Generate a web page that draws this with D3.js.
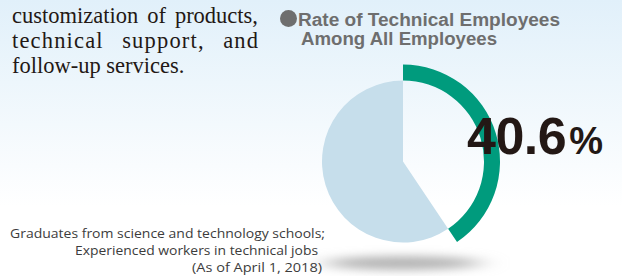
<!DOCTYPE html>
<html>
<head>
<meta charset="utf-8">
<script src="https://cdn.jsdelivr.net/npm/d3@7"></script>
<style>
  html, body { margin: 0; padding: 0; background: #fff; }
  svg { display: block; }
</style>
</head>
<body>
<div id="chart"></div>
<script>
const width = 622;
const height = 276;

// data
const rate = 40.6;
const shares = [
    { key: 'technical', value: 40.6 },
    { key: 'other', value: 59.4 }
];
const titleLines = ['Rate of Technical Employees', 'Among All Employees'];
const noteLines = [
    'Graduates from science and technology schools;',
    'Experienced workers in technical jobs',
    '(As of April 1, 2018)'
];
const paraLines = [
    'customization of products,',
    'technical support, and',
    'follow-up services.'
];

const svg = d3.select('#chart').append('svg')
    .attr('width', width)
    .attr('height', height);

const defs = svg.append('defs');
const bg = defs.append('linearGradient')
    .attr('id', 'bg')
    .attr('x1', 0).attr('y1', 0).attr('x2', 0).attr('y2', 1);
bg.append('stop').attr('offset', '0%').attr('stop-color', '#e1f0fa');
bg.append('stop').attr('offset', '75%').attr('stop-color', '#ffffff');
bg.append('stop').attr('offset', '100%').attr('stop-color', '#ffffff');

defs.append('filter')
    .attr('id', 'blur')
    .attr('x', '-50%').attr('y', '-300%').attr('width', '200%').attr('height', '700%')
    .append('feGaussianBlur')
    .attr('stdDeviation', '14 5');

svg.append('rect')
    .attr('width', width)
    .attr('height', height)
    .attr('fill', 'url(#bg)');

// left paragraph, justified: widen word gaps first, then letters
const paraLeft = 12;
const paraRight = 258;
const maxGapExtra = 14;
const para = svg.append('g')
    .attr('font-family', '"Liberation Serif", "Times New Roman", serif')
    .attr('font-size', 22.5)
    .attr('fill', '#231815');

paraLines.forEach((line, i) => {
    const y = 22.7 + i * 25.3;
    const words = line.split(' ');
    const justify = i < paraLines.length - 1;
    const nodes = words.map(w => para.append('text').attr('y', y).text(w));
    let widths = nodes.map(n => n.node().getComputedTextLength());
    const space = 5.6;
    let gap = space;
    if (justify) {
        const extra = paraRight - paraLeft - d3.sum(widths) - space * (words.length - 1);
        const gapExtra = Math.min(maxGapExtra, extra / (words.length - 1));
        const rest = extra - gapExtra * (words.length - 1);
        const chars = d3.sum(words, w => w.length - 1);
        const ls = rest > 0 ? rest / chars : 0;
        if (ls > 0) {
            nodes.forEach(n => n.attr('letter-spacing', ls));
            widths = nodes.map((n, j) => widths[j] + ls * words[j].length);
        }
        gap = space + gapExtra - ls;
    }
    let x = paraLeft;
    nodes.forEach((n, j) => {
        n.attr('x', x);
        x += widths[j] + gap;
    });
});

// title with bullet
svg.append('circle')
    .attr('cx', 288.5)
    .attr('cy', 18.5)
    .attr('r', 8.5)
    .attr('fill', '#6e6e6e');

const titleWidths = [262, 196];
svg.append('g')
    .attr('font-family', '"Liberation Sans", Arial, sans-serif')
    .attr('font-weight', 'bold')
    .attr('font-size', 17.5)
    .attr('fill', '#6e6e6e')
    .selectAll('text')
    .data(titleLines)
    .join('text')
    .attr('x', (d, i) => i === 0 ? 298 : 301)
    .attr('y', (d, i) => 26 + i * 18.5)
    .attr('textLength', (d, i) => titleWidths[i])
    .attr('lengthAdjust', 'spacingAndGlyphs')
    .text(d => d);

// pie
const cx = 403;
const cy = 161.5;
const rPie = 81;
const rRing = 97;

svg.append('ellipse')
    .attr('cx', 403)
    .attr('cy', 263)
    .attr('rx', 78)
    .attr('ry', 7)
    .attr('fill', '#b4b4b4')
    .attr('filter', 'url(#blur)');

const pie = d3.pie()
    .sort(null)
    .value(d => d.value);

const arcs = pie(shares);

const g = svg.append('g')
    .attr('transform', `translate(${cx},${cy})`);

const ringArc = d3.arc().innerRadius(rPie).outerRadius(rRing);
const fillArc = d3.arc().innerRadius(0).outerRadius(rPie);

g.append('path')
    .attr('d', fillArc(arcs[1]))
    .attr('fill', '#c6deeb');

g.append('path')
    .attr('d', ringArc(arcs[0]))
    .attr('fill', '#009b7d');

// big value
const big = svg.append('text')
    .attr('x', 467)
    .attr('y', 154)
    .attr('font-family', '"Liberation Sans", Arial, sans-serif')
    .attr('font-weight', 'bold')
    .attr('fill', '#231815');
big.append('tspan')
    .attr('font-size', 52)
    .attr('letter-spacing', -0.5)
    .text(d3.format('.1f')(rate));
big.append('tspan')
    .attr('font-size', 38)
    .attr('dx', 3)
    .text('%');

// footnote
const noteRight = [325, 318, 322];
const noteWidths = [315, 243, 130];
svg.append('g')
    .attr('font-family', '"Open Sans", "Noto Sans", sans-serif')
    .attr('font-size', 12.5)
    .attr('fill', '#3c3c3c')
    .selectAll('text')
    .data(noteLines)
    .join('text')
    .attr('x', (d, i) => noteRight[i] - noteWidths[i])
    .attr('y', (d, i) => 238 + i * 17)
    .attr('textLength', (d, i) => noteWidths[i])
    .attr('lengthAdjust', 'spacingAndGlyphs')
    .text(d => d);
</script>
</body>
</html>
